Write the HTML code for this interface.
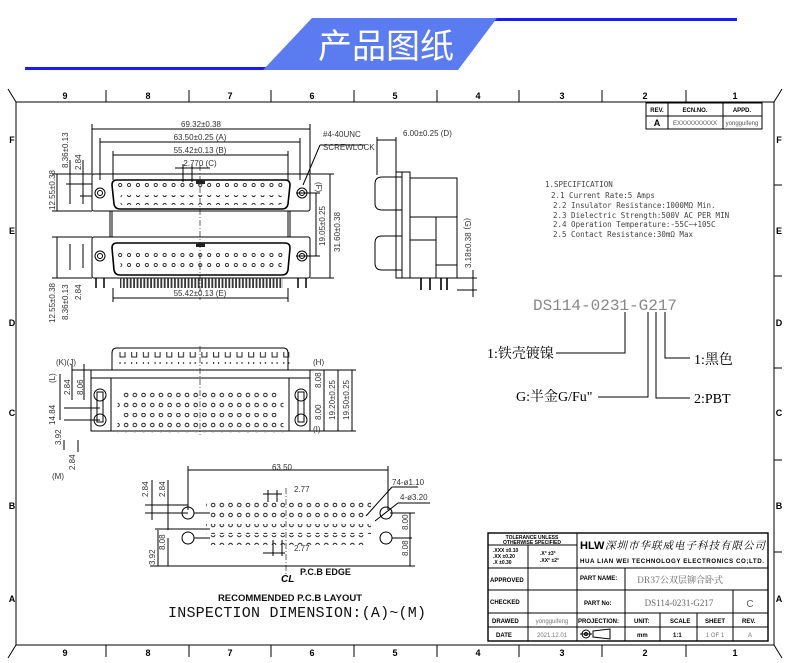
<!DOCTYPE html>
<html><head><meta charset="utf-8"><style>
html,body{margin:0;padding:0;background:#fff;}
svg{display:block;font-family:"Liberation Sans","Noto Sans CJK SC",sans-serif;}
.t{font-size:8px;fill:#333;}
.b{font-weight:bold;fill:#000;}
</style></head><body>
<svg width="790" height="663" viewBox="0 0 790 663" xmlns="http://www.w3.org/2000/svg">
<defs>
<pattern id="p9" x="0" y="0" width="8.9" height="10" patternUnits="userSpaceOnUse"><circle cx="4.45" cy="5" r="1.6" fill="none" stroke="#222" stroke-width="0.9"/></pattern>
<pattern id="pb" x="0" y="0" width="8.7" height="10" patternUnits="userSpaceOnUse"><circle cx="4.35" cy="5" r="1.8" fill="none" stroke="#222" stroke-width="1"/></pattern>
<pattern id="comb" x="0" y="0" width="3.4" height="12" patternUnits="userSpaceOnUse"><rect x="0.6" y="0" width="1.8" height="12" fill="#333"/></pattern>
<pattern id="uu" x="0" y="0" width="11.7" height="12" patternUnits="userSpaceOnUse"><path d="M3 2 V9 H8 V2" fill="none" stroke="#222" stroke-width="1"/></pattern>
</defs>

<!-- header -->
<rect x="25" y="67" width="242" height="3" fill="#1a1aff"/>
<rect x="494" y="18" width="243" height="3" fill="#1a1aff"/>
<polygon points="312,18 497,18 458,70 263,70" fill="#5b7cf0"/>
<text x="386" y="58" font-size="34" fill="#fff" text-anchor="middle" font-family="Noto Sans CJK SC,sans-serif">产品图纸</text>

<!-- frame -->
<g stroke="#000" stroke-width="1" fill="none">
<rect x="16" y="102" width="758" height="543"/>
<line x1="16" y1="102" x2="8" y2="89"/><line x1="774" y1="102" x2="782" y2="89"/>
<line x1="16" y1="645" x2="8" y2="658"/><line x1="774" y1="645" x2="782" y2="658"/>
<line x1="106" y1="90" x2="106" y2="102"/><line x1="189" y1="90" x2="189" y2="102"/><line x1="271" y1="90" x2="271" y2="102"/><line x1="354" y1="90" x2="354" y2="102"/><line x1="437" y1="90" x2="437" y2="102"/><line x1="519" y1="90" x2="519" y2="102"/><line x1="602" y1="90" x2="602" y2="102"/><line x1="686" y1="90" x2="686" y2="102"/>
<line x1="106" y1="645" x2="106" y2="657"/><line x1="189" y1="645" x2="189" y2="657"/><line x1="271" y1="645" x2="271" y2="657"/><line x1="354" y1="645" x2="354" y2="657"/><line x1="437" y1="645" x2="437" y2="657"/><line x1="519" y1="645" x2="519" y2="657"/><line x1="602" y1="645" x2="602" y2="657"/><line x1="686" y1="645" x2="686" y2="657"/>
<line x1="774" y1="185" x2="782" y2="185"/><line x1="774" y1="276" x2="782" y2="276"/><line x1="774" y1="368" x2="782" y2="368"/><line x1="774" y1="460" x2="782" y2="460"/><line x1="774" y1="552" x2="782" y2="552"/>
</g>
<g class="b" font-size="9" text-anchor="middle">
<text x="65" y="99">9</text><text x="148" y="99">8</text><text x="230" y="99">7</text><text x="312" y="99">6</text><text x="395" y="99">5</text><text x="478" y="99">4</text><text x="562" y="99">3</text><text x="645" y="99">2</text><text x="735" y="99">1</text>
<text x="65" y="656">9</text><text x="148" y="656">8</text><text x="230" y="656">7</text><text x="312" y="656">6</text><text x="395" y="656">5</text><text x="478" y="656">4</text><text x="562" y="656">3</text><text x="645" y="656">2</text><text x="735" y="656">1</text>
<text x="12" y="143">F</text><text x="779" y="143">F</text><text x="12" y="234">E</text><text x="779" y="234">E</text><text x="12" y="326">D</text><text x="779" y="326">D</text><text x="12" y="416">C</text><text x="779" y="416">C</text><text x="12" y="509">B</text><text x="779" y="509">B</text><text x="12" y="602">A</text><text x="779" y="602">A</text>
</g>

<!-- rev table -->
<g stroke="#000" fill="none" stroke-width="1"><rect x="646" y="103" width="116" height="26"/><line x1="646" y1="116" x2="762" y2="116"/><line x1="668" y1="103" x2="668" y2="129"/><line x1="723" y1="103" x2="723" y2="129"/></g>
<g font-size="6" class="b" text-anchor="middle"><text x="657" y="112">REV.</text><text x="695" y="112">ECN.NO.</text><text x="742" y="112">APPD.</text><text x="657" y="126" font-size="9">A</text></g>
<text x="695" y="125" font-size="6" fill="#555" text-anchor="middle">EXXXXXXXXXX</text><text x="742" y="125" font-size="6" fill="#555" text-anchor="middle">yongguifeng</text>

<!-- front view -->
<g stroke="#000" fill="none" stroke-width="1">
<line x1="92" y1="124" x2="92" y2="174"/><line x1="310" y1="124" x2="310" y2="174"/>
<line x1="92" y1="129" x2="310" y2="129"/>
<line x1="100" y1="142" x2="300" y2="142"/><line x1="100" y1="138" x2="100" y2="180"/><line x1="300" y1="138" x2="300" y2="180"/>
<line x1="113" y1="155" x2="288" y2="155"/><line x1="113" y1="151" x2="113" y2="180"/><line x1="288" y1="151" x2="288" y2="180"/>
<line x1="175" y1="168" x2="210" y2="168"/><line x1="183" y1="164" x2="183" y2="182"/><line x1="192" y1="164" x2="192" y2="182"/>
<rect x="92" y="174" width="218" height="37" rx="2"/>
<rect x="92" y="237" width="218" height="41" rx="2"/>
<path d="M117 180 H285 Q290 180 290 185 L288 204 Q287 209 282 209 H120 Q115 209 114 204 L112 185 Q112 180 117 180 Z" stroke-width="1.6"/>
<path d="M117 243 H285 Q290 243 290 248 L288 270 Q287 275 282 275 H120 Q115 275 114 270 L112 248 Q112 243 117 243 Z" stroke-width="1.6"/>
<circle cx="100" cy="193" r="5"/><circle cx="100" cy="193" r="2.5"/><circle cx="302" cy="193" r="5"/><circle cx="302" cy="193" r="2.5"/>
<circle cx="100" cy="256" r="5"/><circle cx="100" cy="256" r="2.5"/><circle cx="302" cy="256" r="5"/><circle cx="302" cy="256" r="2.5"/>
<line x1="110" y1="211" x2="110" y2="237"/><line x1="290" y1="211" x2="290" y2="237"/><line x1="112" y1="211" x2="112" y2="237"/><line x1="288" y1="211" x2="288" y2="237"/>
<line x1="200" y1="165" x2="200" y2="300" stroke-dasharray="6,2,1,2" stroke-width="0.6"/>
<line x1="113" y1="288" x2="113" y2="302"/><line x1="288" y1="288" x2="288" y2="302"/><line x1="113" y1="298" x2="288" y2="298"/>
<line x1="303" y1="185" x2="320" y2="145"/><line x1="320" y1="145" x2="365" y2="145"/>
<line x1="310" y1="174" x2="334" y2="174"/><line x1="310" y1="278" x2="334" y2="278"/><line x1="330" y1="174" x2="330" y2="278"/>
<line x1="296" y1="193" x2="320" y2="193"/><line x1="296" y1="256" x2="320" y2="256"/><line x1="316" y1="193" x2="316" y2="256"/>
<line x1="52" y1="174" x2="92" y2="174"/><line x1="52" y1="211" x2="92" y2="211"/><line x1="57" y1="174" x2="57" y2="211"/>
<line x1="66" y1="184" x2="92" y2="184"/><line x1="70" y1="160" x2="70" y2="204"/><line x1="80" y1="196" x2="92" y2="196"/><line x1="83" y1="160" x2="83" y2="204"/>
<line x1="52" y1="237" x2="92" y2="237"/><line x1="52" y1="278" x2="92" y2="278"/><line x1="57" y1="237" x2="57" y2="278"/>
<line x1="70" y1="244" x2="70" y2="270"/><line x1="83" y1="244" x2="83" y2="268"/>
</g>
<rect x="196" y="180" width="9" height="4" fill="#222"/><rect x="196" y="243" width="9" height="4" fill="#222"/>
<rect x="116" y="183" width="170" height="10" fill="url(#p9)"/>
<rect x="120.5" y="195" width="161" height="10" fill="url(#p9)"/>
<rect x="116" y="249" width="170" height="10" fill="url(#p9)"/>
<rect x="120.5" y="262" width="161" height="10" fill="url(#p9)"/>
<rect x="120" y="278" width="163" height="10" fill="url(#comb)"/>
<path d="M96 278 v10 M104 278 v10 M298 278 v10 M306 278 v10" stroke="#000" stroke-width="1.5"/>
<g class="t" text-anchor="middle">
<text x="201" y="127">69.32±0.38</text><text x="200" y="140">63.50±0.25 (A)</text><text x="200" y="153">55.42±0.13 (B)</text><text x="200" y="166">2.770 (C)</text><text x="200" y="296">55.42±0.13 (E)</text>
</g>
<text x="323" y="137" class="t" font-size="7.5">#4-40UNC</text><text x="323" y="150" class="t" font-size="7.5">SCREWLOCK</text>
<g class="t">
<text transform="translate(55,210) rotate(-90)">12.55±0.38</text><text transform="translate(68,168) rotate(-90)">8.36±0.13</text><text transform="translate(81,170) rotate(-90)">2.84</text>
<text transform="translate(55,323) rotate(-90)">12.55±0.38</text><text transform="translate(68,320) rotate(-90)">8.36±0.13</text><text transform="translate(81,300) rotate(-90)">2.84</text>
<text transform="translate(325,246) rotate(-90)">19.05±0.25</text><text transform="translate(340,252) rotate(-90)">31.60±0.38</text>
<text transform="translate(316,182) rotate(90)">(F)</text>
</g>

<!-- side view -->
<g stroke="#000" fill="none" stroke-width="1">
<line x1="377" y1="137" x2="377" y2="175"/><line x1="396" y1="137" x2="396" y2="172"/><line x1="377" y1="140" x2="396" y2="140"/>
<path d="M402 177 H382 Q375 177 375 184 V203 Q375 210 382 210 H402"/>
<path d="M402 236 H382 Q375 236 375 243 V263 Q375 270 382 270 H402"/>
<rect x="396" y="172" width="6" height="106"/><rect x="402" y="172" width="8" height="106"/>
<rect x="410" y="178" width="47" height="100"/>
<line x1="410" y1="217" x2="457" y2="217"/><line x1="436" y1="217" x2="436" y2="278"/><line x1="410" y1="240" x2="436" y2="240"/>
<rect x="436" y="265" width="21" height="13"/>
<line x1="457" y1="278" x2="477" y2="278"/><line x1="457" y1="290" x2="477" y2="290"/><line x1="473" y1="270" x2="473" y2="297"/>
</g>
<path d="M421 278 v12 M430 278 v12 M441 278 v12 M447 278 v12" stroke="#000" stroke-width="1.6"/>
<text x="403" y="136" class="t">6.00±0.25 (D)</text>
<g class="t"><text transform="translate(465,218) rotate(90)">(G)</text><text transform="translate(471,268) rotate(-90)">3.18±0.38</text></g>

<!-- specification -->
<g font-family="DejaVu Sans Mono,Liberation Mono,monospace" font-size="7.5" fill="#444">
<text x="545" y="187">1.SPECIFICATION</text>
<text x="551" y="198">2.1 Current Rate:5 Amps</text>
<text x="553" y="208">2.2 Insulator Resistance:1000MΩ  Min.</text>
<text x="553" y="218">2.3 Dielectric Strength:500V AC PER MIN</text>
<text x="553" y="227">2.4 Operation Temperature:-55C~+105C</text>
<text x="553" y="237">2.5 Contact Resistance:30mΩ  Max</text>
</g>
<text x="533" y="310" font-family="Liberation Mono,monospace" font-size="16" fill="#888">DS114-0231-G217</text>
<g stroke="#000" fill="none" stroke-width="1">
<polyline points="625,312 625,353 556,353"/><polyline points="648,312 648,397 598,397"/><polyline points="656,312 656,398 690,398"/><polyline points="665,312 665,358 690,358"/>
</g>
<g font-family="Liberation Serif,Noto Serif CJK SC,serif" font-size="14" fill="#000">
<text x="487" y="358">1:铁壳镀镍</text><text x="516" y="401">G:半金G/Fu"</text><text x="694" y="403">2:PBT</text><text x="694" y="364">1:黑色</text>
</g>

<!-- bottom view -->
<g stroke="#000" fill="none" stroke-width="1">
<path d="M112 370 V353 Q112 348 117 348 H283 Q288 348 288 353 V370"/>
<rect x="91" y="370" width="219" height="61"/><line x1="91" y1="378" x2="310" y2="378"/>
<rect x="111" y="378" width="178" height="53"/>
<line x1="200" y1="346" x2="200" y2="435" stroke-dasharray="6,2,1,2" stroke-width="0.6"/>
<circle cx="100" cy="395" r="6"/><circle cx="100" cy="420" r="6"/><rect x="97" y="392" width="6" height="30"/>
<circle cx="301" cy="395" r="6"/><circle cx="301" cy="420" r="6"/><rect x="298" y="392" width="6" height="30"/>
<line x1="310" y1="370" x2="356" y2="370"/><line x1="310" y1="431" x2="356" y2="431"/>
<line x1="338" y1="370" x2="338" y2="431"/><line x1="352" y1="370" x2="352" y2="431"/><line x1="324" y1="370" x2="324" y2="431"/>
<line x1="72" y1="370" x2="91" y2="370"/><line x1="60" y1="374" x2="60" y2="420"/><line x1="72" y1="364" x2="72" y2="400"/><line x1="84" y1="364" x2="84" y2="400"/>
<line x1="64" y1="420" x2="100" y2="420"/><line x1="64" y1="408" x2="100" y2="408"/><line x1="64" y1="440" x2="64" y2="450"/><line x1="78" y1="440" x2="78" y2="452"/>
</g>
<rect x="118" y="352" width="176" height="12" fill="url(#uu)"/>
<rect x="122" y="390" width="157" height="10" fill="url(#pb)"/>
<rect x="117.5" y="400" width="166" height="10" fill="url(#pb)"/>
<rect x="122" y="413" width="157" height="10" fill="url(#pb)"/>
<rect x="117.5" y="423" width="166" height="10" fill="url(#pb)"/>
<g class="t">
<text x="56" y="365">(K)(J)</text><text x="313" y="365">(H)</text><text x="313" y="432">(I)</text><text x="52" y="479">(M)</text>
<text transform="translate(55,425) rotate(-90)">14.84</text><text transform="translate(55,383) rotate(-90)">(L)</text><text transform="translate(70,395) rotate(-90)">2.84</text><text transform="translate(83,395) rotate(-90)">8.06</text>
<text transform="translate(321,388) rotate(-90)">8.08</text><text transform="translate(321,420) rotate(-90)">8.00</text><text transform="translate(335,420) rotate(-90)">19.20±0.25</text><text transform="translate(349,420) rotate(-90)">19.50±0.25</text>
<text transform="translate(61,445) rotate(-90)">3.92</text><text transform="translate(75,470) rotate(-90)">2.84</text>
</g>

<!-- PCB layout -->
<g stroke="#000" fill="none" stroke-width="1">
<line x1="188" y1="470" x2="388" y2="470"/><line x1="188" y1="466" x2="188" y2="510"/><line x1="388" y1="466" x2="388" y2="510"/>
<circle cx="188" cy="513" r="6"/><circle cx="188" cy="538" r="6"/><circle cx="386" cy="513" r="6"/><circle cx="386" cy="538" r="6"/>
<line x1="194" y1="513" x2="210" y2="513"/><line x1="194" y1="538" x2="210" y2="538"/>
<line x1="178" y1="566" x2="395" y2="566"/>
<line x1="286" y1="488" x2="286" y2="575" stroke-dasharray="6,2,1,2" stroke-width="0.6"/>
<line x1="366" y1="516" x2="392" y2="487"/><line x1="392" y1="487" x2="418" y2="487"/>
<line x1="375" y1="521" x2="398" y2="503"/><line x1="398" y1="503" x2="430" y2="503"/>
<line x1="263" y1="494" x2="282" y2="494"/><line x1="268" y1="490" x2="268" y2="502"/><line x1="277" y1="490" x2="277" y2="502"/>
<line x1="263" y1="553" x2="285" y2="553"/><line x1="273" y1="540" x2="273" y2="556"/><line x1="282" y1="540" x2="282" y2="556"/>
<line x1="145" y1="505" x2="188" y2="505"/><line x1="145" y1="513" x2="188" y2="513"/><line x1="152" y1="480" x2="152" y2="520"/><line x1="168" y1="480" x2="168" y2="530"/>
<line x1="155" y1="529" x2="210" y2="529"/><line x1="150" y1="566" x2="178" y2="566"/><line x1="158" y1="530" x2="158" y2="566"/><line x1="168" y1="538" x2="168" y2="566"/>
<line x1="390" y1="513" x2="415" y2="513"/><line x1="390" y1="566" x2="415" y2="566"/><line x1="410" y1="513" x2="410" y2="566"/><line x1="392" y1="538" x2="412" y2="538"/>
</g>
<rect x="206" y="500" width="165" height="10" fill="url(#pb)"/>
<rect x="210.3" y="511" width="156.6" height="10" fill="url(#pb)"/>
<rect x="206" y="524" width="165" height="10" fill="url(#pb)"/>
<rect x="210.3" y="535" width="156.6" height="10" fill="url(#pb)"/>
<g class="t">
<text x="282" y="470" text-anchor="middle">63.50</text><text x="294" y="492">2.77</text><text x="294" y="551">2.77</text>
<text x="392" y="485">74-ø1.10</text><text x="400" y="500">4-ø3.20</text>
<text transform="translate(148,497) rotate(-90)">2.84</text><text transform="translate(165,497) rotate(-90)">2.84</text>
<text transform="translate(155,565) rotate(-90)">3.92</text><text transform="translate(165,550) rotate(-90)">8.08</text>
<text transform="translate(408,530) rotate(-90)">8.00</text><text transform="translate(408,556) rotate(-90)">8.08</text>
</g>
<text x="300" y="575" font-size="9" font-weight="bold" fill="#111">P.C.B EDGE</text>
<text x="281" y="582" font-size="10" font-style="italic" font-weight="bold">CL</text>
<text x="290" y="601" font-size="9.5" font-weight="bold" text-anchor="middle" fill="#111">RECOMMENDED P.C.B LAYOUT</text>
<text x="168" y="617" font-size="15" font-family="Liberation Mono,monospace" fill="#111" textLength="258">INSPECTION DIMENSION:(A)~(M)</text>

<!-- title block -->
<g stroke="#000" fill="none" stroke-width="1">
<rect x="488" y="533" width="280" height="108" stroke-width="1.4"/>
<line x1="577" y1="533" x2="577" y2="641"/>
<line x1="488" y1="568" x2="768" y2="568"/>
<line x1="488" y1="590" x2="768" y2="590"/>
<line x1="488" y1="613" x2="768" y2="613"/>
<line x1="488" y1="627" x2="768" y2="627"/>
<line x1="488" y1="545" x2="577" y2="545"/><line x1="528" y1="545" x2="528" y2="568"/>
<line x1="528" y1="568" x2="528" y2="641"/>
<line x1="625" y1="568" x2="625" y2="641"/>
<line x1="660" y1="613" x2="660" y2="641"/><line x1="697" y1="613" x2="697" y2="641"/><line x1="733" y1="590" x2="733" y2="641"/>
</g>
<g font-size="5" class="b" text-anchor="middle"><text x="532" y="539">TOLERANCE UNLESS</text><text x="532" y="544">OTHERWISE SPECIFIED</text></g>
<g font-size="5" class="b"><text x="493" y="552">.XXX ±0.10</text><text x="493" y="558">.XX  ±0.20</text><text x="493" y="564">.X   ±0.30</text><text x="540" y="555">.X°  ±3°</text><text x="540" y="562">.XX° ±2°</text></g>
<text x="580" y="549" font-size="11" font-weight="bold">HLW</text>
<text x="605" y="549" font-size="10.5" font-family="Noto Serif CJK SC,serif" font-style="italic" textLength="160">深圳市华联威电子科技有限公司</text>
<text x="580" y="563" font-size="6.2" class="b" textLength="184">HUA LIAN WEI TECHNOLOGY ELECTRONICS CO;LTD.</text>
<g font-size="6" class="b"><text x="490" y="582">APPROVED</text><text x="490" y="604">CHECKED</text><text x="492" y="623">DRAWED</text><text x="496" y="637">DATE</text>
<text x="580" y="580">PART NAME:</text><text x="584" y="605">PART No:</text><text x="578" y="623">PROJECTION:</text><text x="634" y="623">UNIT:</text><text x="670" y="623">SCALE</text><text x="705" y="623">SHEET</text><text x="742" y="623">REV.</text>
<text x="637" y="637">mm</text><text x="673" y="637">1:1</text></g>
<g font-size="6" fill="#777" text-anchor="middle"><text x="552" y="623">yongguifeng</text><text x="552" y="637">2021.12.01</text><text x="715" y="637">1 OF 1</text><text x="750" y="637">A</text></g>
<text x="680" y="583" font-size="9" fill="#666" text-anchor="middle" font-family="Noto Serif CJK SC,serif">DR37公双层铆合卧式</text>
<text x="679" y="606" font-size="9" fill="#666" text-anchor="middle" font-family="Liberation Serif,serif">DS114-0231-G217</text>
<text x="750" y="607" font-size="10" fill="#666" text-anchor="middle">C</text>
<g stroke="#000" fill="none" stroke-width="1"><circle cx="586" cy="634" r="4"/><circle cx="586" cy="634" r="1.5"/><line x1="580" y1="634" x2="592" y2="634"/><path d="M593 631 L610 629 V639 L593 637 Z"/></g>
</svg>
</body></html>
